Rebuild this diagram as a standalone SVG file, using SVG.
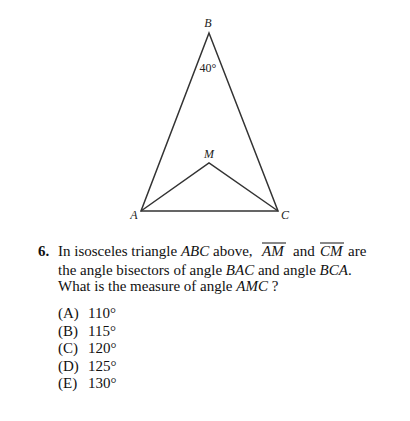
<svg xmlns="http://www.w3.org/2000/svg" width="410" height="421" viewBox="0 0 410 421">
<style>
.ln{fill:none;stroke:#333;stroke-width:1.5;stroke-linejoin:miter}
.lbl{font-family:"Liberation Serif",serif;font-size:12px;font-style:italic;fill:#222}
.t{font-family:"Liberation Serif",serif;font-size:15px;fill:#111}
.i{font-style:italic}
.ov{stroke:#111;stroke-width:1}
</style>
<rect width="410" height="421" fill="#fff"/>
<g id="connectors">
<polygon class="ln" points="209,33 141,211 278,211"/>
<polyline class="ln" points="141,211 209,163 278,211"/>
</g>
<g id="node-B"><text class="lbl" x="208" y="27" text-anchor="middle">B</text></g>
<g id="angle-label"><text class="lbl" x="208" y="72" text-anchor="middle" style="font-style:normal">40°</text></g>
<g id="node-M"><text class="lbl" x="209" y="158" text-anchor="middle">M</text></g>
<g id="node-A"><text class="lbl" x="134" y="219" text-anchor="middle">A</text></g>
<g id="node-C"><text class="lbl" x="285" y="219" text-anchor="middle">C</text></g>
<g id="question">
<text class="t" x="38" y="256"><tspan font-weight="bold">6.</tspan></text>
<text class="t" x="58" y="256">In isosceles triangle <tspan class="i">ABC</tspan> above,</text>
<text class="t i" x="262" y="256">AM</text>
<text class="t" x="293" y="256">and</text>
<text class="t i" x="320" y="256">CM</text>
<text class="t" x="348" y="256">are</text>
<line class="ov" x1="262" y1="243" x2="286" y2="243"/>
<line class="ov" x1="320" y1="243" x2="344" y2="243"/>
<text class="t" x="58" y="274.5">the angle bisectors of angle <tspan class="i">BAC</tspan> and angle <tspan class="i">BCA</tspan>.</text>
<text class="t" x="58" y="291">What is the measure of angle <tspan class="i">AMC</tspan> ?</text>
</g>
<g id="options">
<text class="t" x="58" y="318">(A)</text><text class="t" x="88" y="318">110°</text>
<text class="t" x="58" y="335.5">(B)</text><text class="t" x="88" y="335.5">115°</text>
<text class="t" x="58" y="353">(C)</text><text class="t" x="88" y="353">120°</text>
<text class="t" x="58" y="370.5">(D)</text><text class="t" x="88" y="370.5">125°</text>
<text class="t" x="58" y="388">(E)</text><text class="t" x="88" y="388">130°</text>
</g>
</svg>
